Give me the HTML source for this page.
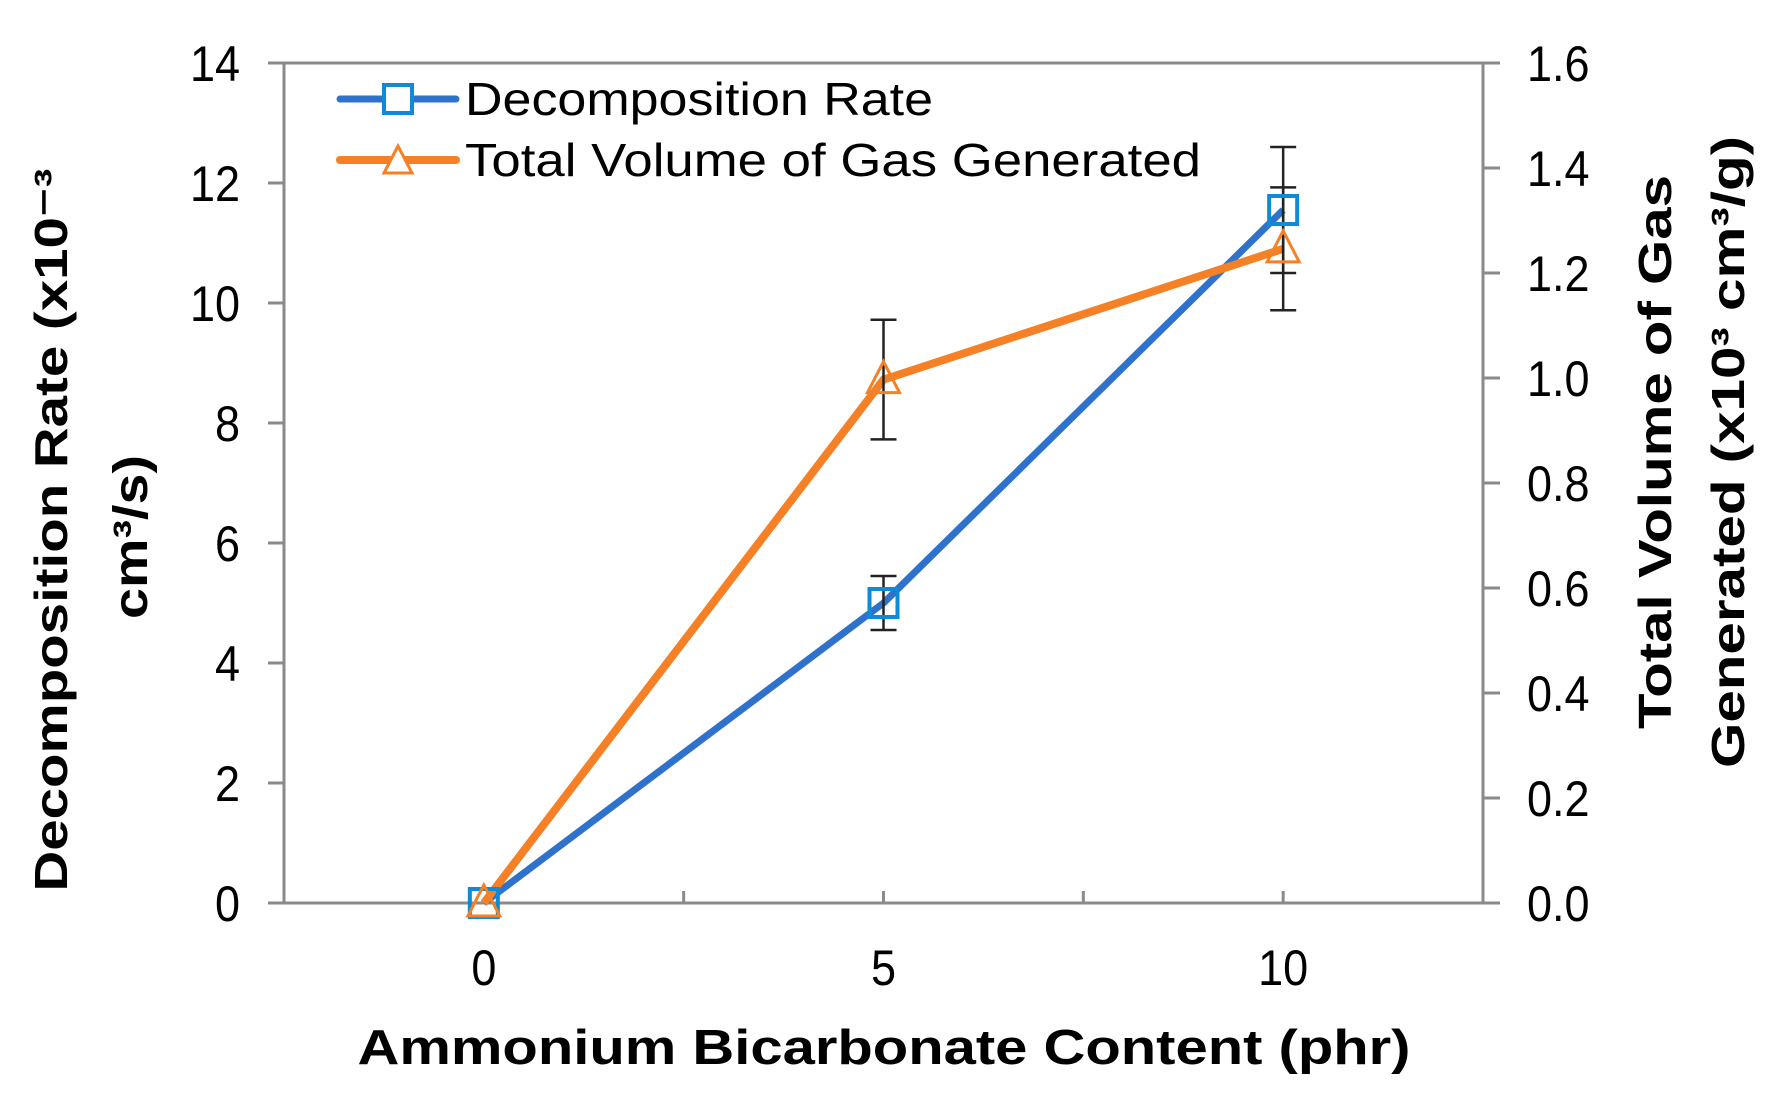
<!DOCTYPE html>
<html><head><meta charset="utf-8"><style>
html,body{margin:0;padding:0;background:#fff}
svg{display:block}
text{font-family:"Liberation Sans",Arial,sans-serif;fill:#000}
</style></head><body>
<svg id="chart" width="1771" height="1109" viewBox="0 0 1771 1109" xmlns="http://www.w3.org/2000/svg">
<g id="axes"></g>
<g id="series"></g>
<g id="legend">
  <line x1="340" y1="99" x2="456" y2="99" stroke="#2f72cc" stroke-width="7" stroke-linecap="round"/>
  <rect x="384" y="85" width="28" height="28" fill="#fff" stroke="#0f8ad6" stroke-width="4"/>
  <text x="465" y="115" font-size="46" textLength="468" lengthAdjust="spacingAndGlyphs">Decomposition Rate</text>
  <line x1="340" y1="160" x2="456" y2="160" stroke="#f58025" stroke-width="8" stroke-linecap="round"/>
  <polygon points="398,146 384,173 412,173" fill="#fff" stroke="#f58025" stroke-width="3"/>
  <text x="465" y="176" font-size="46" textLength="736" lengthAdjust="spacingAndGlyphs">Total Volume of Gas Generated</text>
</g>
<text x="884" y="1064" font-size="49" font-weight="bold" text-anchor="middle" textLength="1053" lengthAdjust="spacingAndGlyphs">Ammonium Bicarbonate Content (phr)</text>
<text transform="translate(67,530) rotate(-90)" font-size="46" font-weight="bold" text-anchor="middle" textLength="723" lengthAdjust="spacingAndGlyphs">Decomposition Rate (x10⁻³</text>
<text transform="translate(147,537) rotate(-90)" font-size="48" font-weight="bold" text-anchor="middle" textLength="164" lengthAdjust="spacingAndGlyphs">cm³/s)</text>
<text transform="translate(1671,452) rotate(-90)" font-size="46" font-weight="bold" text-anchor="middle" textLength="554" lengthAdjust="spacingAndGlyphs">Total Volume of Gas</text>
<text transform="translate(1744,452) rotate(-90)" font-size="46" font-weight="bold" text-anchor="middle" textLength="632" lengthAdjust="spacingAndGlyphs">Generated (x10³ cm³/g)</text>
</svg>
<script>
const xCategories = [0, 5, 10];
const decompRate = [0, 5.0, 11.55];
const decompErr = [0, 0.45, 1.05];
const gasVolume = [0, 0.997, 1.246];
const gasErr = [0, 0.114, 0.117];
const leftTicks = [0, 2, 4, 6, 8, 10, 12, 14];
const rightTicks = ["0.0","0.2","0.4","0.6","0.8","1.0","1.2","1.4","1.6"];
const xTickLabels = ["0", "5", "10"];

const NS = "http://www.w3.org/2000/svg";
const X0 = 284, X1 = 1483, Y0 = 903, Y1 = 63;
const xMin = -2.5, xMax = 12.5;
function xs(v){ return X0 + (v - xMin) / (xMax - xMin) * (X1 - X0); }
function yl(v){ return Y0 - v / 14 * (Y0 - Y1); }
function yr(v){ return Y0 - v / 1.6 * (Y0 - Y1); }
function mk(tag, attrs, parent){
  const e = document.createElementNS(NS, tag);
  for (const k in attrs) e.setAttribute(k, attrs[k]);
  parent.appendChild(e); return e;
}
const axes = document.getElementById('axes');
const series = document.getElementById('series');
const AX = "#8a8a8a";
let e;
e = mk('line', {x1:X0, y1:Y1, x2:X1, y2:Y1, stroke:AX, 'stroke-width':3}, axes);


e = mk('line', {x1:X0, y1:Y1, x2:X0, y2:Y0, stroke:AX, 'stroke-width':3}, axes);


e = mk('line', {x1:X1, y1:Y1, x2:X1, y2:Y0, stroke:AX, 'stroke-width':3}, axes);


e = mk('line', {x1:268, y1:Y0, x2:1500, y2:Y0, stroke:AX, 'stroke-width':3}, axes);


leftTicks.forEach(v => {
  const y = yl(v);
  mk('line', {x1:268, y1:y, x2:X0, y2:y, stroke:AX, 'stroke-width':3}, axes);
  const t = mk('text', {x:0, y:0, 'font-size':50, 'text-anchor':'end', transform:`translate(240,${y+18}) scale(0.9,1)`}, axes);
  t.textContent = String(v);
  
  
});
rightTicks.forEach(s => {
  const y = yr(parseFloat(s));
  mk('line', {x1:X1, y1:y, x2:1500, y2:y, stroke:AX, 'stroke-width':3}, axes);
  const t = mk('text', {x:0, y:0, 'font-size':50, transform:`translate(1527,${y+18}) scale(0.9,1)`}, axes);
  t.textContent = s;
  
  
});
for (let v = 2.5; v < xMax; v += 2.5) {
  mk('line', {x1:xs(v), y1:Y0, x2:xs(v), y2:Y0-12, stroke:AX, 'stroke-width':3}, axes);
}
xCategories.forEach((c, i) => {
  const t = mk('text', {x:0, y:0, 'font-size':50, 'text-anchor':'middle', transform:`translate(${xs(c)},985) scale(0.9,1)`}, axes);
  t.textContent = xTickLabels[i];
  
  
});
const gasPts = xCategories.map((c,i)=>xs(c)+','+yr(gasVolume[i])).join(' ');
const decPts = xCategories.map((c,i)=>xs(c)+','+yl(decompRate[i])).join(' ');
e = mk('polyline', {points:decPts, fill:'none', stroke:'#2f72cc', 'stroke-width':7, 'stroke-linejoin':'round'}, series);


e = mk('polyline', {points:gasPts, fill:'none', stroke:'#f58025', 'stroke-width':8, 'stroke-linejoin':'round'}, series);


function errBar(x, yTop, yBot){
  const g = mk('g', {stroke:'#222', 'stroke-width':2.5}, series);
  
  
  mk('line', {x1:x, y1:yTop, x2:x, y2:yBot}, g);
  mk('line', {x1:x-13, y1:yTop, x2:x+13, y2:yTop}, g);
  mk('line', {x1:x-13, y1:yBot, x2:x+13, y2:yBot}, g);
}
xCategories.forEach((c,i) => {
  if (decompErr[i] > 0) errBar(xs(c), yl(decompRate[i]+decompErr[i]), yl(decompRate[i]-decompErr[i]));
  if (gasErr[i] > 0) errBar(xs(c), yr(gasVolume[i]+gasErr[i]), yr(gasVolume[i]-gasErr[i]));
});
xCategories.forEach((c,i) => {
  const x = xs(c), y = yl(decompRate[i]);
  const r = mk('rect', {x:x-14, y:y-14, width:28, height:28, fill:'none', stroke:'#0f8ad6', 'stroke-width':4}, series);
  
  
});
xCategories.forEach((c,i) => {
  const x = xs(c), y = yr(gasVolume[i]);
  const p = mk('polygon', {points:`${x},${y-18} ${x-16},${y+13} ${x+16},${y+13}`, fill:'none', stroke:'#f58025', 'stroke-width':3}, series);
  
  
});
</script>
</body></html>
